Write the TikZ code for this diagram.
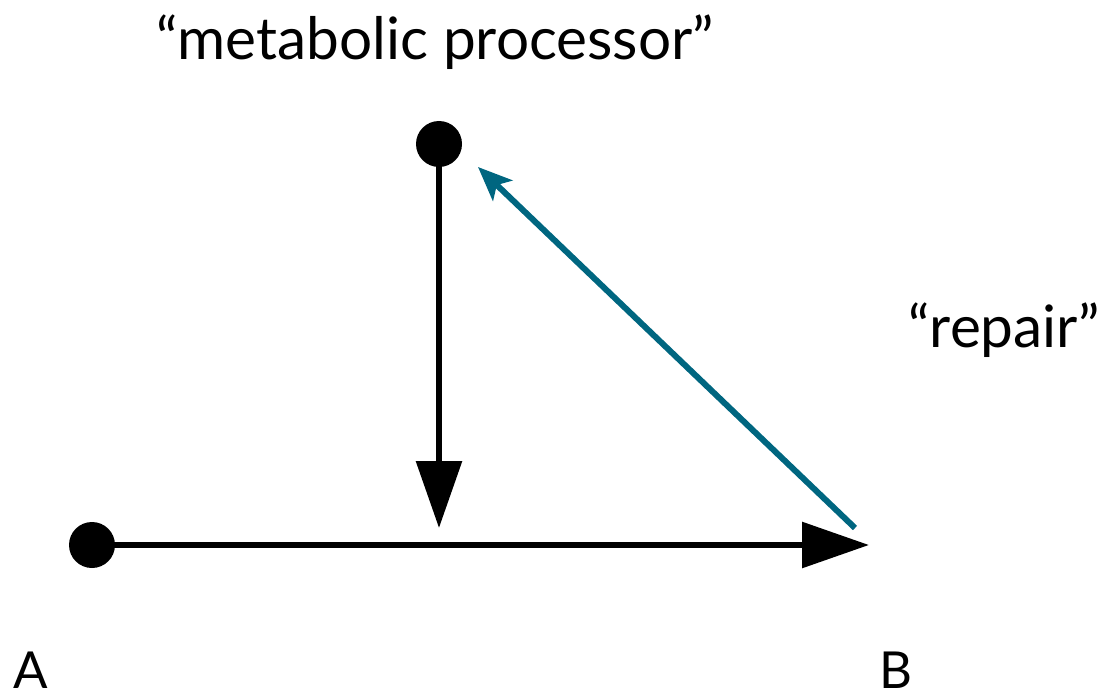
\documentclass[tikz,border=0pt]{standalone}
\usepackage{fontspec}
\setmainfont{Lato}
\usetikzlibrary{arrows.meta}
\definecolor{teal}{RGB}{0,102,128}
\begin{document}
\begin{tikzpicture}[x=1pt,y=-1pt,
  dot/.style={circle,fill=black,inner sep=0pt,minimum size=46pt},
  lbl/.style={inner sep=0pt,font=\fontsize{58.5}{66}\selectfont},
  letter/.style={inner sep=0pt,font=\fontsize{51}{60}\selectfont},
  blackarrow/.style={line width=6pt,-{Triangle[length=67pt,width=45pt]}},
  bluearrow/.style={line width=6pt,color=teal,-{Stealth[length=34pt,width=28pt,inset=8pt]}}]
\useasboundingbox (0,0) rectangle (1109,698);
\node[dot] (a) at (92,545) {};
\node[dot] (m) at (439,144) {};
\coordinate (b) at (869,545);
\coordinate (j) at (439,528);
\coordinate (r) at (855,528);
\coordinate (mt) at (478,167);
\draw[blackarrow] (a.center) -- (b);
\draw[blackarrow] (m.center) -- (j);
\draw[bluearrow] (r) -- (mt);
\node[lbl] (tm) at (435,42) {“metabolic processor”};
\node[lbl] (tr) at (1004,330) {“repair”};
\node[letter] (ta) at (31,670) {A};
\node[letter] (tb) at (896,670) {B};
\end{tikzpicture}
\end{document}
